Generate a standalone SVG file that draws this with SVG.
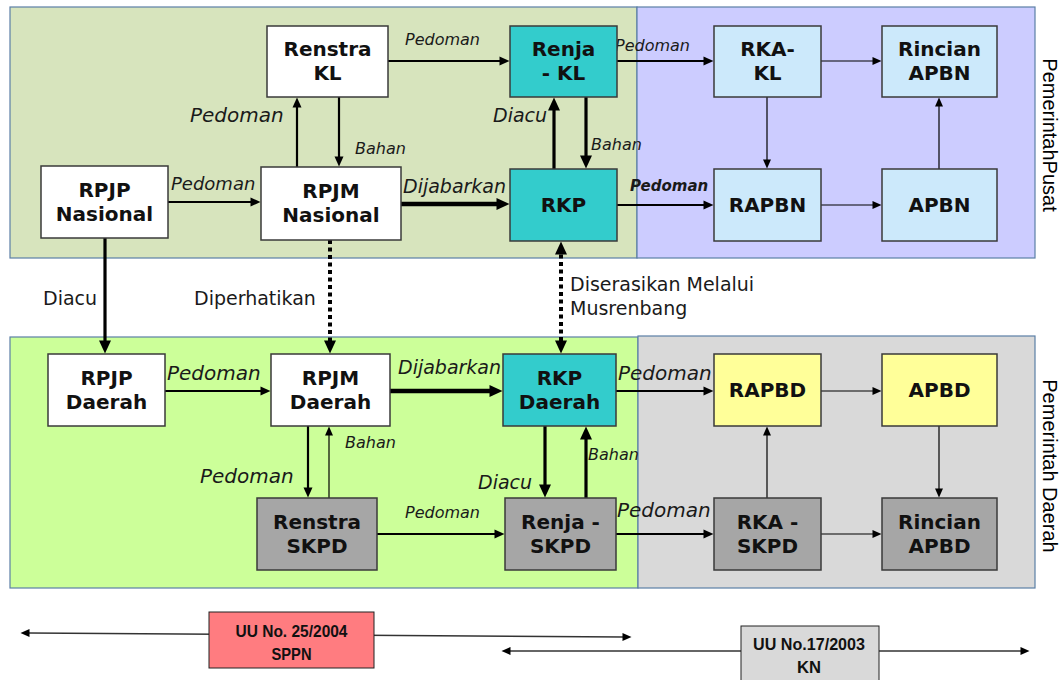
<svg xmlns="http://www.w3.org/2000/svg" width="1062" height="680" viewBox="0 0 1062 680">
<defs>
<style>
.panel{stroke:#5b7fa6;stroke-width:1.2}
.node rect{stroke:#3a3a3a;stroke-width:1.5}
.nt{font-family:"DejaVu Sans",Verdana,sans-serif;font-weight:bold;font-size:20px;fill:#111;text-anchor:middle}
.lb{font-family:"DejaVu Sans",Verdana,sans-serif;font-style:italic;fill:#1a1a1a}
.rg{font-family:"DejaVu Sans",Verdana,sans-serif;font-size:19px;fill:#1a1a1a}
.side{font-family:"Liberation Sans",Arial,sans-serif;font-size:20px;fill:#000;text-anchor:middle}
.ft{font-family:"Liberation Sans",Arial,sans-serif;font-weight:bold;font-size:17px;fill:#111;text-anchor:middle}
.c1{stroke:#000;stroke-width:1.2;fill:none;marker-end:url(#m1)}
.c2{stroke:#000;stroke-width:2.2;fill:none;marker-end:url(#m2)}
.c3{stroke:#000;stroke-width:3.2;fill:none;marker-end:url(#m3)}
.c4{stroke:#000;stroke-width:4.5;fill:none;marker-end:url(#m3)}
.dot{stroke:#000;stroke-width:4;stroke-dasharray:4 3.5;fill:none;marker-end:url(#m3)}
.ftl{stroke:#333;stroke-width:1.5;fill:none;marker-start:url(#m1);marker-end:url(#m1)}
</style>
<marker id="m1" markerUnits="userSpaceOnUse" markerWidth="10" markerHeight="8" refX="0.5" refY="4" orient="auto-start-reverse" overflow="visible"><path d="M0,0 L9,4 L0,8 z" fill="#000"/></marker>
<marker id="m2" markerUnits="userSpaceOnUse" markerWidth="11" markerHeight="9" refX="0.5" refY="4.5" orient="auto-start-reverse" overflow="visible"><path d="M0,0 L10,4.5 L0,9 z" fill="#000"/></marker>
<marker id="m3" markerUnits="userSpaceOnUse" markerWidth="14" markerHeight="12" refX="0.5" refY="6" orient="auto-start-reverse" overflow="visible"><path d="M0,0 L13,6 L0,12 z" fill="#000"/></marker>
</defs>

<g id="panels">
<rect class="panel" x="10" y="7" width="627" height="251" fill="#d7e4bd"/>
<rect class="panel" x="637" y="7" width="398" height="251" fill="#ccccff"/>
<rect class="panel" x="10" y="337" width="628" height="251" fill="#ccff99"/>
<rect class="panel" x="638" y="336" width="397" height="252" fill="#d9d9d9"/>
</g>

<g id="connectors">
<path class="c2" d="M388,61 H500"/>
<path class="c2" d="M617,61 H704"/>
<path class="c1" d="M821,61 H873"/>
<path class="c1" d="M767,97 V160"/>
<path class="c1" d="M939,169 V106"/>
<path class="c1" d="M821,205 H873"/>
<path class="c2" d="M617,205 H704"/>
<path class="c2" d="M168,202 H251"/>
<path class="c2" d="M297,167 V107"/>
<path class="c2" d="M339,97 V157"/>
<path class="c4" d="M401,204 H497"/>
<path class="c3" d="M554,169 V110"/>
<path class="c3" d="M586,97 V156"/>
<path class="c3" d="M105,238 V341"/>
<path class="dot" d="M330,240 V341"/>
<path class="dot" d="M561,341 V254" style="marker-start:url(#m3)"/>
<path class="c2" d="M165,391 H261"/>
<path class="c4" d="M390,391 H490"/>
<path class="c2" d="M616,391 H704"/>
<path class="c1" d="M821,391 H873"/>
<path class="c1" d="M939,426 V489"/>
<path class="c1" d="M767,498 V435"/>
<path class="c1" d="M821,534 H873"/>
<path class="c2" d="M616,534 H704"/>
<path class="c2" d="M377,534 H495"/>
<path class="c2" d="M308,426 V488"/>
<path class="c1" d="M329,498 V435"/>
<path class="c3" d="M545,426 V485"/>
<path class="c3" d="M586,498 V439"/>
<path class="ftl" d="M29,633 L623,637"/>
<path class="ftl" d="M510,651 H1021"/>
</g>

<g id="labels">
<text class="lb" x="405" y="45" font-size="16">Pedoman</text>
<text class="lb" x="615" y="51" font-size="16">Pedoman</text>
<text class="lb" x="190" y="122" font-size="20">Pedoman</text>
<text class="lb" x="355" y="154" font-size="16">Bahan</text>
<text class="lb" x="493" y="122" font-size="19">Diacu</text>
<text class="lb" x="591" y="150" font-size="16">Bahan</text>
<text class="lb" x="171" y="190" font-size="18">Pedoman</text>
<text class="lb" x="403" y="193" font-size="19">Dijabarkan</text>
<text class="lb" x="630" y="191" font-size="15" font-weight="bold">Pedoman</text>
<text class="rg" x="43" y="305">Diacu</text>
<text class="rg" x="194" y="305">Diperhatikan</text>
<text class="rg" x="570" y="291">Diserasikan Melalui</text>
<text class="rg" x="570" y="315">Musrenbang</text>
<text class="lb" x="167" y="380" font-size="20">Pedoman</text>
<text class="lb" x="398" y="374" font-size="19">Dijabarkan</text>
<text class="lb" x="618" y="380" font-size="20">Pedoman</text>
<text class="lb" x="345" y="448" font-size="16">Bahan</text>
<text class="lb" x="200" y="483" font-size="20">Pedoman</text>
<text class="lb" x="588" y="460" font-size="16">Bahan</text>
<text class="lb" x="478" y="489" font-size="19">Diacu</text>
<text class="lb" x="405" y="518" font-size="16">Pedoman</text>
<text class="lb" x="617" y="517" font-size="20">Pedoman</text>
<text class="side" transform="translate(1043,135) rotate(90)">PemerintahPusat</text>
<text class="side" transform="translate(1043,466) rotate(90)">Pemerintah Daerah</text>
</g>

<g id="n-renstra-kl" class="node"><rect x="267" y="26" width="121" height="71" fill="#fff"/><text class="nt" x="327.5" y="56">Renstra</text><text class="nt" x="327.5" y="80">KL</text></g>
<g id="n-renja-kl" class="node"><rect x="510" y="26" width="107" height="71" fill="#33cccc"/><text class="nt" x="563.5" y="56">Renja</text><text class="nt" x="563.5" y="80">- KL</text></g>
<g id="n-rka-kl" class="node"><rect x="714" y="26" width="107" height="71" fill="#cce9fb"/><text class="nt" x="767.5" y="56">RKA-</text><text class="nt" x="767.5" y="80">KL</text></g>
<g id="n-rincian-apbn" class="node"><rect x="882" y="26" width="115" height="71" fill="#cce9fb"/><text class="nt" x="939.5" y="56">Rincian</text><text class="nt" x="939.5" y="80">APBN</text></g>
<g id="n-rpjp-nasional" class="node"><rect x="41" y="166" width="127" height="72" fill="#fff"/><text class="nt" x="104.5" y="197">RPJP</text><text class="nt" x="104.5" y="221">Nasional</text></g>
<g id="n-rpjm-nasional" class="node"><rect x="261" y="167" width="140" height="73" fill="#fff"/><text class="nt" x="331" y="198">RPJM</text><text class="nt" x="331" y="222">Nasional</text></g>
<g id="n-rkp" class="node"><rect x="510" y="169" width="107" height="72" fill="#33cccc"/><text class="nt" x="563.5" y="212">RKP</text></g>
<g id="n-rapbn" class="node"><rect x="714" y="169" width="107" height="72" fill="#cce9fb"/><text class="nt" x="767.5" y="212">RAPBN</text></g>
<g id="n-apbn" class="node"><rect x="882" y="169" width="115" height="72" fill="#cce9fb"/><text class="nt" x="939.5" y="212">APBN</text></g>

<g id="n-rpjp-daerah" class="node"><rect x="48" y="354" width="117" height="72" fill="#fff"/><text class="nt" x="106.5" y="385">RPJP</text><text class="nt" x="106.5" y="409">Daerah</text></g>
<g id="n-rpjm-daerah" class="node"><rect x="271" y="354" width="119" height="72" fill="#fff"/><text class="nt" x="330.5" y="385">RPJM</text><text class="nt" x="330.5" y="409">Daerah</text></g>
<g id="n-rkp-daerah" class="node"><rect x="503" y="354" width="113" height="72" fill="#33cccc"/><text class="nt" x="559.5" y="385">RKP</text><text class="nt" x="559.5" y="409">Daerah</text></g>
<g id="n-rapbd" class="node"><rect x="714" y="354" width="107" height="72" fill="#ffff99"/><text class="nt" x="767.5" y="397">RAPBD</text></g>
<g id="n-apbd" class="node"><rect x="882" y="354" width="115" height="72" fill="#ffff99"/><text class="nt" x="939.5" y="397">APBD</text></g>
<g id="n-renstra-skpd" class="node"><rect x="257" y="498" width="120" height="72" fill="#a6a6a6"/><text class="nt" x="317" y="529">Renstra</text><text class="nt" x="317" y="553">SKPD</text></g>
<g id="n-renja-skpd" class="node"><rect x="505" y="498" width="111" height="72" fill="#a6a6a6"/><text class="nt" x="560.5" y="529">Renja -</text><text class="nt" x="560.5" y="553">SKPD</text></g>
<g id="n-rka-skpd" class="node"><rect x="714" y="498" width="107" height="72" fill="#a6a6a6"/><text class="nt" x="767.5" y="529">RKA -</text><text class="nt" x="767.5" y="553">SKPD</text></g>
<g id="n-rincian-apbd" class="node"><rect x="882" y="498" width="115" height="72" fill="#a6a6a6"/><text class="nt" x="939.5" y="529">Rincian</text><text class="nt" x="939.5" y="553">APBD</text></g>

<g id="n-uu25" class="node"><rect x="209" y="612" width="165" height="56" fill="#ff7c80" style="stroke:#222;stroke-width:1"/><text class="ft" x="291.5" y="637" textLength="112" lengthAdjust="spacingAndGlyphs">UU No. 25/2004</text><text class="ft" x="291.5" y="660" textLength="40" lengthAdjust="spacingAndGlyphs">SPPN</text></g>
<g id="n-uu17" class="node"><rect x="741" y="626" width="138" height="60" fill="#d9d9d9" style="stroke:#222;stroke-width:1"/><text class="ft" x="809" y="650" textLength="112" lengthAdjust="spacingAndGlyphs">UU No.17/2003</text><text class="ft" x="809" y="673" textLength="24" lengthAdjust="spacingAndGlyphs">KN</text></g>
</svg>
